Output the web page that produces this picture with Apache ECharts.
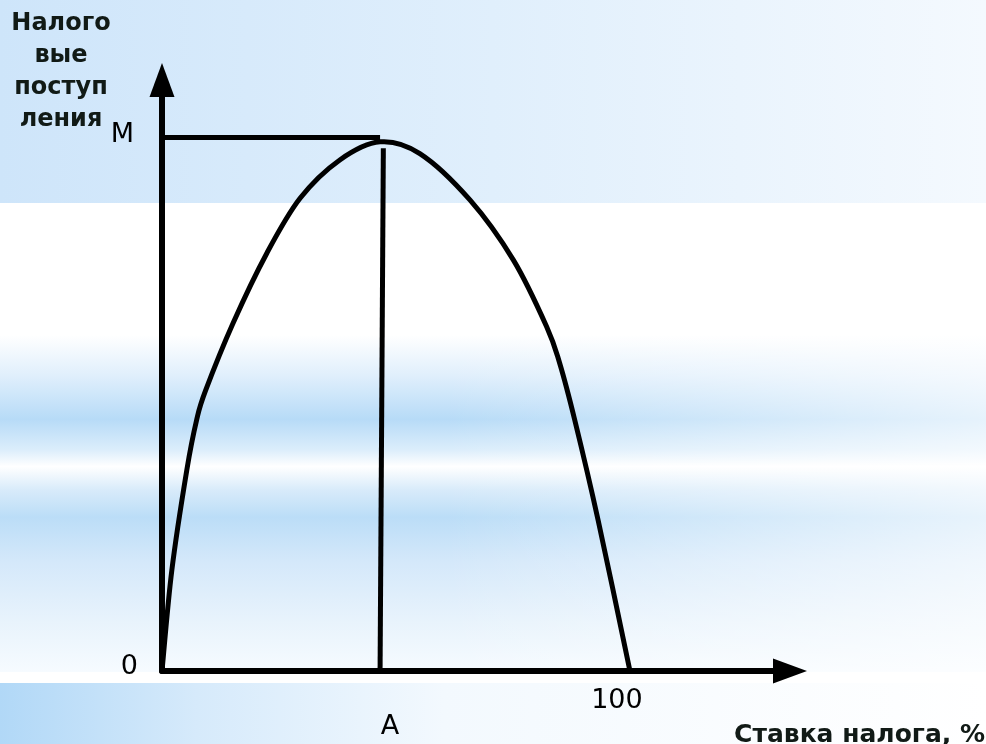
<!DOCTYPE html>
<html>
<head>
<meta charset="utf-8">
<script src="https://cdn.jsdelivr.net/npm/echarts@6/dist/echarts.min.js"></script>
<style>
  html, body { margin: 0; padding: 0; background: #fff; }
  #laffer { width: 986px; height: 744px; }
</style>
</head>
<body>
<div id="laffer"></div>
<script>
// кривая Лаффера: ставка налога (%) -> налоговые поступления (M = 100)
const rate = [0, 2.1, 5.3, 7.4, 9.3, 15.2, 22.4, 29.5, 38.0, 46.6, 55.1, 65.8, 75.1, 82.2, 85.0, 88.2, 93.2, 100]
const revenue = [0, 18.9, 37.7, 47.1, 52.6, 65.3, 78.4, 88.7, 95.9, 99.3, 97.1, 88.4, 77.1, 64.6, 57.7, 47.1, 28.3, 0]
// вертикаль из точки максимума на ось ставки
const peakLineX = [46.6, 47.3]
const peakLineY = [0, 98.1]
// горизонталь на уровне M
const mLineX = [0, 46.6]
const mLineY = [100.1, 100.1]
// подписи на осях
const xTickValues = [46.6, 100]
const xTickNames = ['A', '100']
const yTickValues = [0, 100]
const yTickNames = ['0', 'M']

const zip = (xs, ys) => xs.map((x, i) => [x, ys[i]])

// гладкая кривая через точки (Catmull-Rom -> кубические Безье), координаты берём из осей
const curvePath = (api) => {
  const p = zip(rate, revenue).map(d => api.coord(d))
  let d = 'M' + p[0][0] + ' ' + p[0][1]
  for (let i = 0; i < p.length - 1; i++) {
    const p0 = p[i - 1] || p[i]
    const p1 = p[i]
    const p2 = p[i + 1]
    const p3 = p[i + 2] || p2
    const c1 = [p1[0] + (p2[0] - p0[0]) / 6, p1[1] + (p2[1] - p0[1]) / 6]
    const c2 = [p2[0] - (p3[0] - p1[0]) / 6, p2[1] - (p3[1] - p1[1]) / 6]
    d += ' C' + c1.join(' ') + ' ' + c2.join(' ') + ' ' + p2.join(' ')
  }
  return d
}

const chart = echarts.init(document.getElementById('laffer'))
chart.setOption({
  animation: false,
  textStyle: { fontFamily: 'DejaVu Sans' },
  grid: { left: 162, right: 196, top: 80, bottom: 73 },
  graphic: [
    // фон слайда
    {
      type: 'rect', z: -10, silent: true,
      shape: { x: 0, y: 0, width: 986, height: 203 },
      style: { fill: new echarts.graphic.LinearGradient(0, 0, 1, 0, [
        { offset: 0, color: '#cee5fa' },
        { offset: 0.5, color: '#e0effc' },
        { offset: 1, color: '#f4f9fe' }
      ]) }
    },
    {
      type: 'rect', z: -10, silent: true,
      shape: { x: 0, y: 335, width: 986, height: 337 },
      style: { fill: new echarts.graphic.LinearGradient(0, 0, 0, 1, [
        { offset: 0, color: '#ffffff' },
        { offset: 0.12, color: '#e0effc' },
        { offset: 0.25, color: '#b7dbf7' },
        { offset: 0.34, color: '#dbedfb' },
        { offset: 0.39, color: '#ffffff' },
        { offset: 0.46, color: '#d8ebfa' },
        { offset: 0.54, color: '#bbddf7' },
        { offset: 0.67, color: '#d4e8fa' },
        { offset: 0.85, color: '#e8f3fc' },
        { offset: 1, color: '#f6fbff' }
      ]) }
    },
    {
      type: 'rect', z: -9, silent: true,
      shape: { x: 0, y: 335, width: 986, height: 337 },
      style: { fill: new echarts.graphic.LinearGradient(0, 0, 1, 0, [
        { offset: 0, color: 'rgba(255,255,255,0)' },
        { offset: 0.45, color: 'rgba(255,255,255,0)' },
        { offset: 1, color: 'rgba(255,255,255,0.65)' }
      ]) }
    },
    {
      type: 'rect', z: -10, silent: true,
      shape: { x: 0, y: 683, width: 986, height: 61 },
      style: { fill: new echarts.graphic.LinearGradient(0, 0, 1, 0, [
        { offset: 0, color: '#b1d8f7' },
        { offset: 0.2, color: '#d6eafb' },
        { offset: 0.45, color: '#f3f9fe' },
        { offset: 1, color: '#ffffff' }
      ]) }
    },
    // названия осей
    {
      type: 'text', z: 10, x: 61, y: 8,
      style: {
        text: 'Налого\nвые\nпоступ\nления',
        align: 'center', verticalAlign: 'top',
        font: 'bold 24px "DejaVu Sans"', lineHeight: 32, fill: '#111a16'
      }
    },
    {
      type: 'text', z: 10, x: 985, y: 735,
      style: {
        text: 'Ставка налога, %',
        align: 'right', verticalAlign: 'middle',
        font: 'bold 25px "DejaVu Sans"', fill: '#111a16'
      }
    }
  ],
  xAxis: {
    type: 'value', min: 0, max: 134.2,
    splitLine: { show: false },
    axisTick: { show: false },
    axisLine: {
      onZero: false,
      symbol: ['none', 'triangle'], symbolSize: [25, 34],
      lineStyle: { color: '#000', width: 6 }
    },
    axisLabel: {
      customValues: xTickValues,
      margin: 16,
      formatter: v => (v === 100 ? '{h|' + xTickNames[1] + '}' : '{a|' + xTickNames[0] + '}'),
      rich: {
        a: { fontSize: 27, color: '#000', padding: [26, 0, 0, 20] },
        h: { fontSize: 27, color: '#000', padding: [0, 26, 0, 0] }
      }
    }
  },
  yAxis: {
    type: 'value', min: 0, max: 110.9,
    splitLine: { show: false },
    axisTick: { show: false },
    axisLine: {
      onZero: false,
      symbol: ['none', 'triangle'], symbolSize: [25, 34],
      lineStyle: { color: '#000', width: 6 }
    },
    axisLabel: {
      customValues: yTickValues,
      margin: 24,
      formatter: v => (v === 0 ? '{z|' + yTickNames[0] + '}' : '{m|' + yTickNames[1] + '}'),
      rich: {
        z: { fontSize: 27, color: '#000', padding: [0, 0, 8, 0] },
        m: { fontSize: 27, color: '#000', padding: [0, 4, 6, 0] }
      }
    }
  },
  series: [
    {
      name: 'curve', type: 'custom', z: 3,
      data: [[rate[0], revenue[0]]],
      renderItem: (params, api) => ({
        type: 'path',
        shape: { pathData: curvePath(api) },
        style: { fill: 'none', stroke: '#000', lineWidth: 5, lineJoin: 'round', lineCap: 'round' }
      })
    },
    {
      name: 'peak', type: 'line', showSymbol: false,
      data: zip(peakLineX, peakLineY),
      lineStyle: { color: '#000', width: 5 }
    },
    {
      name: 'M', type: 'line', showSymbol: false,
      data: zip(mLineX, mLineY),
      lineStyle: { color: '#000', width: 5 }
    }
  ]
})
window.addEventListener('resize', () => {
  chart.resize()
})
</script>
</body>
</html>
